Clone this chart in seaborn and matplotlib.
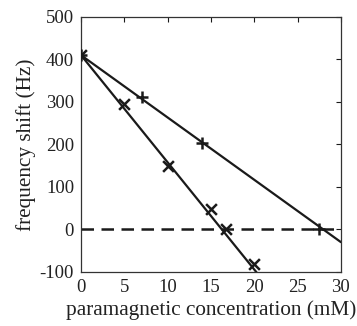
import matplotlib
matplotlib.use("Agg")
import matplotlib.pyplot as plt
import seaborn as sns
import numpy as np

# data
plus_x = [0, 7, 14, 27.5]
plus_y = [410, 312, 203, 0]
cross_x = [0, 5, 10, 15, 16.7, 20]
cross_y = [410, 295, 150, 48, 0, -82]
fit_plus_x = [0, 30]
fit_plus_y = [410, -30]
fit_cross_x = [0, 22]
fit_cross_y = [410, -145]
xticks = [0, 5, 10, 15, 20, 25, 30]
yticks = [-100, 0, 100, 200, 300, 400, 500]

sns.set_theme(style="white")
plt.rcParams['font.family'] = ['Liberation Serif', 'DejaVu Serif']

fig = plt.figure(figsize=(3.57, 3.26), dpi=100)
ax = fig.add_axes([0.227, 0.166, 0.728, 0.782])

ax.axhline(0, color='k', lw=1.8, ls=(0, (5, 3)), zorder=1)
sns.lineplot(x=fit_plus_x, y=fit_plus_y, ax=ax, color='k', lw=1.6, zorder=2)
sns.lineplot(x=fit_cross_x, y=fit_cross_y, ax=ax, color='k', lw=1.6, zorder=2)
sns.scatterplot(x=plus_x, y=plus_y, ax=ax, marker='+', s=75, color='k', linewidth=1.8, zorder=3)
sns.scatterplot(x=cross_x, y=cross_y, ax=ax, marker='x', s=60, color='k', linewidth=1.8, zorder=3)

ax.set_xlim(0, 30)
ax.set_ylim(-100, 500)
ax.set_xticks(xticks)
ax.set_yticks(yticks)
ax.set_xticklabels([str(t) for t in xticks])
ax.set_yticklabels([str(t) for t in yticks])
ax.tick_params(direction='in', length=3.5, width=0.8, top=True, right=True,
               labelsize=13.5, colors='k', labelcolor='#222222', pad=5)
for s in ax.spines.values():
    s.set_color('#333333')
    s.set_linewidth(0.9)
ax.set_xlabel('paramagnetic concentration (mM)', fontsize=15.3, color='#222222', labelpad=3)
ax.set_ylabel('frequency shift (Hz)', fontsize=15.3, color='#222222', labelpad=3)

fig.savefig('out.png', dpi=100)
